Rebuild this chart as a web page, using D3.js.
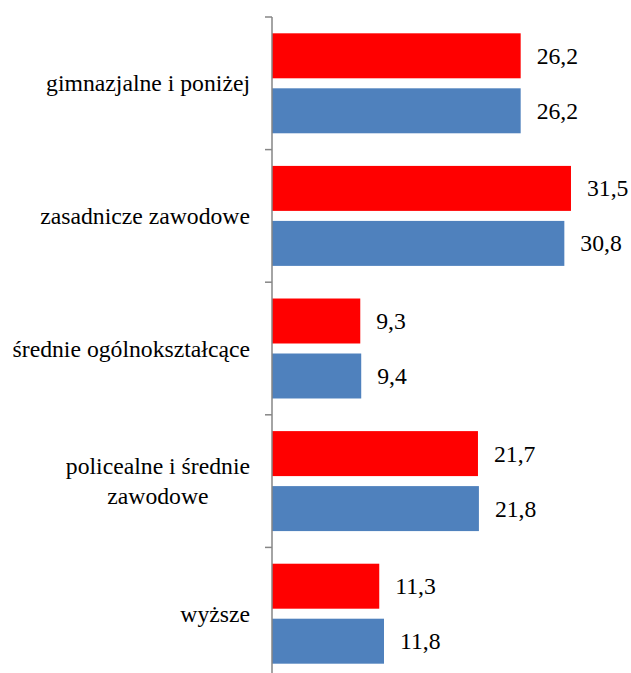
<!DOCTYPE html>
<html>
<head>
<meta charset="utf-8">
<script src="https://cdn.jsdelivr.net/npm/d3@7"></script>
</head>
<body style="margin:0">
<script>
var width = 631;
var height = 673;

// categories (top to bottom), each label split into lines
var categories = ["gimnazjalne i poniżej", "zasadnicze zawodowe", "średnie ogólnokształcące", "policealne i średnie zawodowe", "wyższe"];
var categoryLines = [["gimnazjalne i poniżej"], ["zasadnicze zawodowe"], ["średnie ogólnokształcące"], ["policealne i średnie", "zawodowe"], ["wyższe"]];
var series = ["red", "blue"];
var redValues = [26.2, 31.5, 9.3, 21.7, 11.3];
var blueValues = [26.2, 30.8, 9.4, 21.8, 11.8];
var colors = { red: "#ff0000", blue: "#4f81bd" };

var axisX = 272;
// default page font is the serif face (Times metrics)
var fontSize = 23.7;

var svg = d3.select("body").append("svg")
.attr("width", width)
.attr("height", height);

var y = d3.scaleBand()
.domain(categories)
.range([17, 680])
.paddingInner(0.246)
.paddingOuter(0.123);

var ySub = d3.scaleBand()
.domain(series)
.range([0, y.bandwidth()])
.paddingInner(0.182);

var x = d3.scaleLinear()
.domain([0, 35])
.range([axisX, axisX + 332.2]);

var rows = categories.map(function (c, i) {
	return { category: c, lines: categoryLines[i], values: { red: redValues[i], blue: blueValues[i] } };
});

var group = svg.selectAll("g.cat")
.data(rows)
.enter().append("g")
.attr("class", "cat")
.attr("transform", function (d) {
	return "translate(0," + y(d.category) + ")";
});

series.forEach(function (s) {
	group.append("rect")
	.attr("x", x(0))
	.attr("y", ySub(s))
	.attr("width", function (d) { return x(d.values[s]) - x(0); })
	.attr("height", ySub.bandwidth())
	.attr("fill", colors[s]);

	group.append("text")
	.attr("x", function (d) { return x(d.values[s]) + 16; })
	.attr("y", ySub(s) + ySub.bandwidth() / 2 + 8)
	.attr("font-size", fontSize)
	.attr("fill", "#000000")
	.text(function (d) { return d3.format(".1f")(d.values[s]).replace(".", ","); });
});

// category axis
var axis = svg.append("g")
.attr("transform", "translate(" + axisX + ",0)");

axis.append("line")
.attr("x1", 0).attr("x2", 0)
.attr("y1", 17).attr("y2", 680)
.attr("stroke", "#868686")
.attr("stroke-width", 1.5);

var tickPos = categories.map(function (c) { return y(c) - y.step() * y.paddingInner() / 2; });
tickPos.push(y.range()[1]);

axis.selectAll("line.tk")
.data(tickPos)
.enter().append("line")
.attr("class", "tk")
.attr("x1", -7).attr("x2", 0)
.attr("y1", function (d) { return d; })
.attr("y2", function (d) { return d; })
.attr("stroke", "#868686")
.attr("stroke-width", 1.5);

// category labels, right aligned at x=250, lines centred within the block
rows.forEach(function (d) {
	var lineHeight = 30;
	var top = y(d.category) + y.bandwidth() / 2 - (d.lines.length - 1) * lineHeight / 2 + 8;
	var texts = d.lines.map(function (l, k) {
		return svg.append("text")
		.attr("y", top + k * lineHeight)
		.attr("text-anchor", "middle")
		.attr("font-size", fontSize)
		.attr("fill", "#000000")
		.text(l);
	});
	var w = d3.max(texts, function (t) { return t.node().getBBox().width; });
	texts.forEach(function (t) { t.attr("x", 250 - w / 2); });
});
</script>
</body>
</html>
